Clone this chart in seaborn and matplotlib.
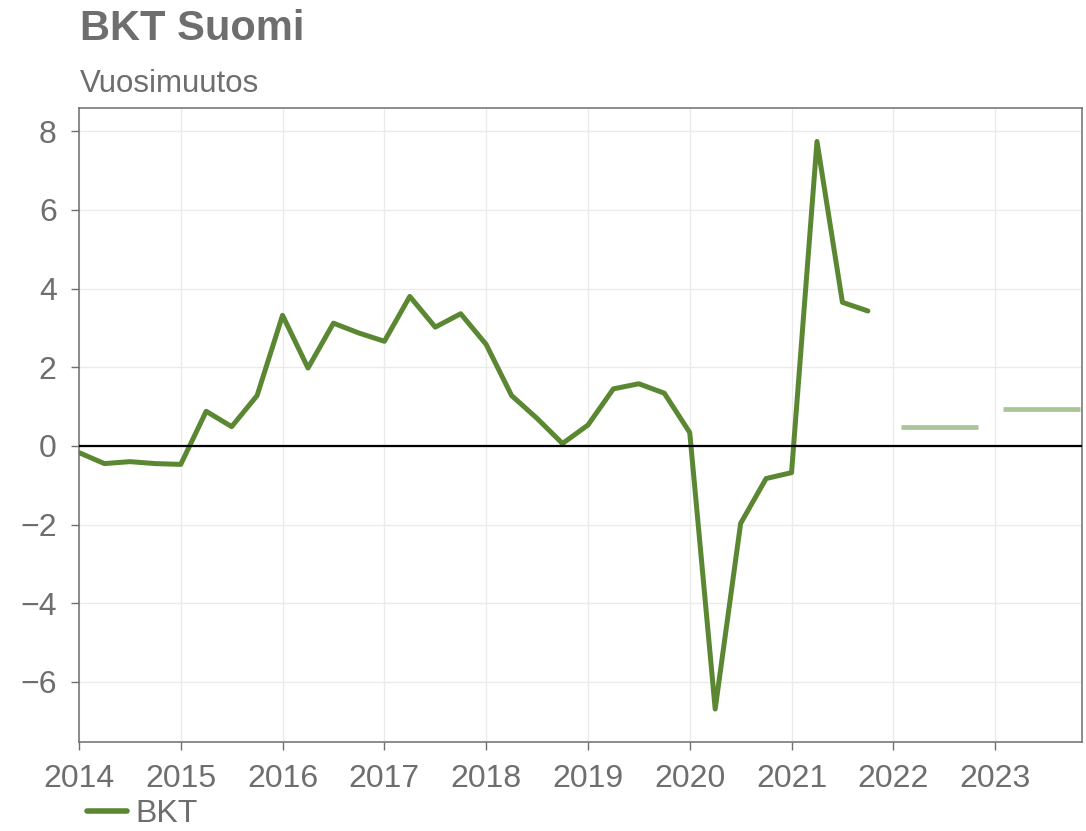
import pandas as pd
import matplotlib
matplotlib.use('Agg')
import matplotlib.pyplot as plt
import seaborn as sns

# BKT:n vuosimuutos neljännesvuosittain, 2014Q1 - 2021Q4
quarters = pd.period_range('2014Q1', '2021Q4', freq='Q')
bkt = [-0.17, -0.45, -0.40, -0.45,
       -0.47, 0.88, 0.49, 1.28,
       3.32, 1.98, 3.12, 2.87,
       2.66, 3.80, 3.02, 3.36,
       2.58, 1.28, 0.70, 0.06,
       0.53, 1.45, 1.58, 1.34,
       0.34, -6.69, -1.97, -0.83,
       -0.68, 7.74, 3.65, 3.43]

# ennusteet vuosille
forecast_years = [2022, 2023]
forecast_values = [0.47, 0.95]

year_ticks = list(range(2014, 2024))
y_ticks = [-6, -4, -2, 0, 2, 4, 6, 8]

grey = '#6e6e6e'
green = '#5b8733'
light_green = '#a9c497'

sns.set_theme(style='white')
plt.rcParams['font.family'] = ['Liberation Sans', 'DejaVu Sans']

df = pd.DataFrame({
    'aika': [q.year + (q.quarter - 1) / 4 for q in quarters],
    'BKT': bkt,
})

fig = plt.figure(figsize=(10.86, 8.31), dpi=100)
ax = fig.add_axes([0.0727, 0.107, 0.9233, 0.763])

sns.lineplot(data=df, x='aika', y='BKT', ax=ax, color=green, linewidth=3.6,
             label='BKT', legend=False)

# ennusteviivat
for year, value in zip(forecast_years, forecast_values):
    ax.hlines(value, year + 0.08, year + 0.83, color=light_green, linewidth=3.4,
              capstyle='butt')

ax.axhline(0, color='black', linewidth=1.6, zorder=3)

ax.set_xlim(2014, 2023.85)
ax.set_ylim(-7.53, 8.59)
ax.set_xticks(year_ticks)
ax.set_xticklabels([str(y) for y in year_ticks])
ax.set_yticks(y_ticks)
ax.set_yticklabels(['\u2212' + str(-v) if v < 0 else str(v) for v in y_ticks])

ax.grid(True, color='#ebebeb', linewidth=1)
ax.set_axisbelow(True)
for s in ax.spines.values():
    s.set_color(grey)
    s.set_linewidth(1.1)
ax.tick_params(axis='both', which='major', direction='out', length=6, width=1,
               color=grey, labelcolor=grey, labelsize=23, pad=10,
               bottom=True, left=True)
ax.set_xlabel('')
ax.set_ylabel('')

fig.text(0.0737, 0.952, 'BKT Suomi', fontsize=30, fontweight='bold', color=grey,
         ha='left', va='baseline')
fig.text(0.0737, 0.889, 'Vuosimuutos', fontsize=22.5, color=grey,
         ha='left', va='baseline')

handles, labels = ax.get_legend_handles_labels()
leg = fig.legend(handles, labels, loc='center left', bbox_to_anchor=(0.08, 0.02),
                 frameon=False, fontsize=23, handlelength=1.25, handletextpad=0.28,
                 borderpad=0, borderaxespad=0)
for t in leg.get_texts():
    t.set_color(grey)
for l in leg.get_lines():
    l.set_linewidth(4)

fig.savefig('out.png', dpi=100)
